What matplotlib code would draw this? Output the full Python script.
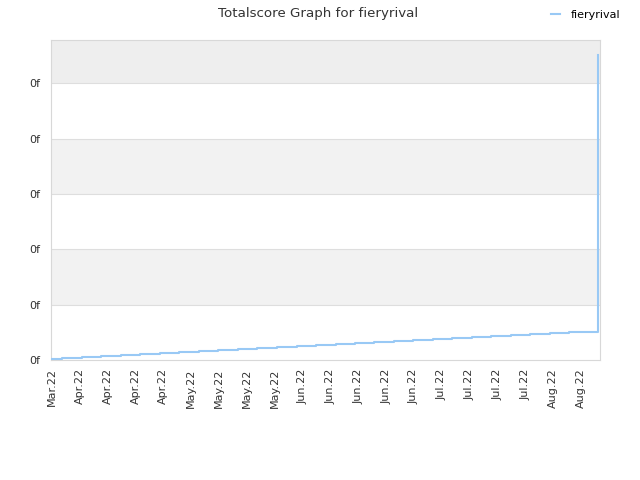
import matplotlib
matplotlib.use("Agg")
import matplotlib.pyplot as plt
import matplotlib.dates as mdates
import pandas as pd

# score history (y axis in its own tick units)
dates = ["2022-03-31 00:00", "2022-04-02 12:00", "2022-04-07 12:00", "2022-04-12 08:00",
         "2022-04-17 08:00", "2022-04-22 03:00", "2022-04-27 05:00", "2022-05-01 22:00",
         "2022-05-07 00:00", "2022-05-11 17:00", "2022-05-16 19:00", "2022-05-21 12:00",
         "2022-05-26 14:00", "2022-05-31 14:00", "2022-06-05 10:00", "2022-06-10 10:00",
         "2022-06-15 05:00", "2022-06-20 00:00", "2022-06-25 00:00", "2022-06-29 19:00",
         "2022-07-04 19:00", "2022-07-09 14:00", "2022-07-14 14:00", "2022-07-19 10:00",
         "2022-07-24 10:00", "2022-07-29 05:00", "2022-08-03 05:00", "2022-08-08 00:00",
         "2022-08-15 07:00"]
scores = [0.013, 0.031, 0.050, 0.068, 0.087, 0.105, 0.124, 0.142, 0.161, 0.179,
          0.197, 0.216, 0.234, 0.253, 0.271, 0.290, 0.308, 0.327, 0.345, 0.363,
          0.382, 0.400, 0.419, 0.437, 0.456, 0.474, 0.493, 0.511, 5.5]
y_ticks = [0, 1, 2, 3, 4, 5]
y_labels = ["0f", "0f", "0f", "0f", "0f", "0f"]
player = "fieryrival"

x = pd.to_datetime(dates)
start = pd.Timestamp("2022-03-31")

fig = plt.figure(figsize=(6.4, 4.8), dpi=100)
ax = fig.add_axes([0.0797, 0.25, 0.8578, 0.6667])

ymax = 5.78
# alternating bands
ax.axhspan(1, 2, color="#f2f2f2", zorder=0, lw=0)
ax.axhspan(3, 4, color="#f2f2f2", zorder=0, lw=0)
ax.axhspan(5, ymax, color="#eeeeee", zorder=0, lw=0)
for t in y_ticks[1:]:
    ax.axhline(t, color="#dedede", lw=0.8, zorder=1)

ax.plot(x, scores, drawstyle="steps-post", color="#99c9f5", lw=1.5,
        label=player, zorder=3)

ax.set_ylim(0, ymax)
ax.set_xlim(start - pd.Timedelta(hours=6), start + pd.Timedelta(days=137.8))
ax.set_yticks(y_ticks)
ax.set_yticklabels(y_labels)

tick_dates = pd.date_range(start, periods=20, freq="7D")
ax.set_xticks(tick_dates)
ax.xaxis.set_major_formatter(mdates.DateFormatter("%b.%y"))
plt.setp(ax.get_xticklabels(), rotation=90)

ax.tick_params(axis="both", length=0, labelsize=8, labelcolor="#333333")
ax.tick_params(axis="x", pad=6)
ax.tick_params(axis="y", pad=8)
for s in ax.spines.values():
    s.set_color("#d8d8d8")

fig.suptitle("Totalscore Graph for " + player, x=0.497, y=0.985,
             fontsize=9.6, color="#333333")
fig.legend(loc="upper right", bbox_to_anchor=(0.985, 1.0), frameon=False,
           fontsize=8, handlelength=0.8, handletextpad=1.0)

fig.savefig("out.png", dpi=100)
